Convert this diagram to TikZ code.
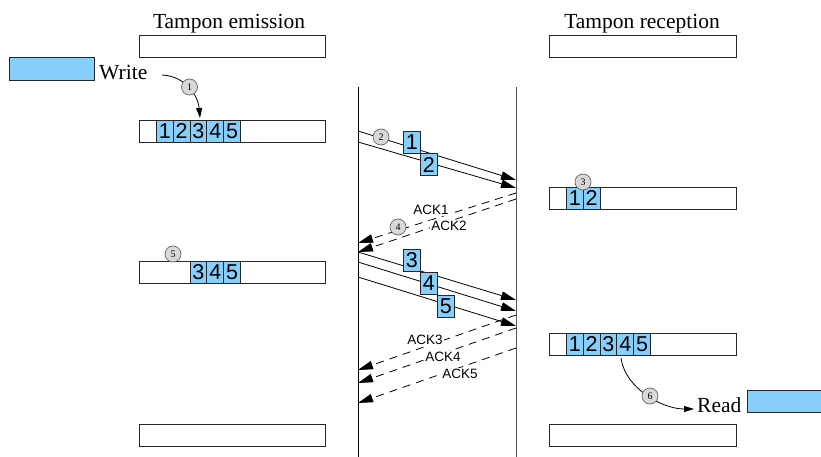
\documentclass[tikz,border=0pt]{standalone}
\usepackage{fontspec}
\setmainfont{Liberation Serif}
\newfontfamily\hv{Liberation Sans}
\usetikzlibrary{arrows.meta}
\definecolor{cellblue}{RGB}{136,206,250}
\begin{document}
\begin{tikzpicture}[x=1pt,y=-1pt,
  buf/.style={draw=black!85, line width=0.9pt, minimum width=186pt, minimum height=22pt, inner sep=0pt, anchor=north west},
  cell/.style={draw=black!85, fill=cellblue, line width=0.9pt, minimum width=16.8pt, minimum height=22pt, inner sep=0pt, anchor=north west, font=\hv\fontsize{21.5}{21.5}\selectfont},
  stepnum/.style={circle, draw=black!60, fill=black!15, line width=0.7pt, minimum size=16pt, inner sep=0pt, font=\fontsize{10}{10}\selectfont},
  title/.style={font=\fontsize{21.5}{22}\selectfont, anchor=base, inner sep=0pt},
  acklbl/.style={font=\hv\fontsize{13.5}{13.5}\selectfont, inner sep=0pt},
  msg/.style={line width=0.8pt, -{Triangle[length=15pt,width=8.5pt]}},
  ackline/.style={msg, dash pattern=on 8pt off 6pt},
  timeline/.style={line width=0.9pt}
]
\useasboundingbox (0,0) rectangle (821,457);

% titles
\node[title] (t1) at (229,29) {Tampon emission};
\node[title] (t2) at (642,29) {Tampon reception};

% left buffers
\node[buf] (e0) at (139,35) {};
\node[buf] (e1) at (139,120) {};
\node[buf] (e2) at (139,261) {};
\node[buf] (e3) at (139,424) {};
% right buffers
\node[buf, minimum width=187pt] (r0) at (549,35) {};
\node[buf, minimum width=187pt] (r1) at (549,187) {};
\node[buf, minimum width=187pt] (r2) at (549,333) {};
\node[buf, minimum width=187pt] (r3) at (549,424) {};

% cells in buffers
\foreach \i [count=\k from 0] in {1,...,5}
  \node[cell] (ea\i) at (156+16.8*\k,120) {\i};
\foreach \i [count=\k from 0] in {3,4,5}
  \node[cell] (eb\i) at (189.6+16.8*\k,261) {\i};
\foreach \i [count=\k from 0] in {1,2}
  \node[cell] (ra\i) at (566+16.8*\k,187) {\i};
\foreach \i [count=\k from 0] in {1,...,5}
  \node[cell] (rb\i) at (566+16.8*\k,333) {\i};

% write / read
\node[draw=black!85, fill=cellblue, line width=0.9pt, minimum width=85pt, minimum height=23pt, inner sep=0pt, anchor=north west] (wbox) at (9,57) {};
\node[font=\fontsize{21.5}{22}\selectfont, anchor=base west, inner sep=0pt] (wtxt) at (99,80) {Write};
\node[font=\fontsize{21.5}{22}\selectfont, anchor=base west, inner sep=0pt] (rtxt) at (697,412) {Read};
\node[draw=black!85, fill=cellblue, line width=0.9pt, minimum width=80pt, minimum height=22pt, inner sep=0pt, anchor=north west] (rbox) at (747,390) {};

\coordinate (wst) at (162,75);
\coordinate (wend) at (200,118);
\draw[line width=0.8pt, -{Triangle[length=10pt,width=6pt]}] (wst) .. controls (185,76) and (198,95) .. (wend);
\node[stepnum] (s1) at (189.5,87) {1};

\coordinate (rst) at (621,358);
\coordinate (rend) at (694,409);
\draw[line width=0.8pt, -{Triangle[length=10pt,width=6pt]}] (rst) .. controls (625,388) and (662,409) .. (rend);
\node[stepnum] (s6) at (650,396) {6};

% timelines
\coordinate (lt) at (358,87);
\coordinate (lb) at (358,457);
\coordinate (rt) at (516,87);
\coordinate (rb) at (516,457);
\draw[timeline] (lt) -- (lb);
\draw[timeline, black!65] (rt) -- (rb);

% data messages 1,2
\coordinate (m1s) at (358,131); \coordinate (m1e) at (516,180);
\coordinate (m2s) at (358,142); \coordinate (m2e) at (516,188);
\draw[msg] (m1s) -- (m1e);
\draw[msg] (m2s) -- (m2e);
\node[cell] (p1) at (403,131) {1};
\node[cell] (p2) at (420,153.5) {2};
\node[stepnum] (s2) at (381,137) {2};

% acks 1,2
\coordinate (a1s) at (516,193); \coordinate (a1e) at (358,243);
\coordinate (a2s) at (516,199); \coordinate (a2e) at (358,252);
\draw[ackline] (a1s) -- (a1e);
\draw[ackline] (a2s) -- (a2e);
\node[acklbl, fill=white, inner sep=1pt] (k1) at (431,210) {ACK1};
\node[acklbl, fill=white, inner sep=1pt] (k2) at (449,226) {ACK2};
\node[stepnum] (s4) at (398,227) {4};

% data messages 3,4,5
\coordinate (m3s) at (358,252); \coordinate (m3e) at (516,300);
\coordinate (m4s) at (358,262); \coordinate (m4e) at (516,311);
\coordinate (m5s) at (358,277); \coordinate (m5e) at (516,326);
\draw[msg] (m3s) -- (m3e);
\draw[msg] (m4s) -- (m4e);
\draw[msg] (m5s) -- (m5e);
\node[cell] (p3) at (403,249) {3};
\node[cell] (p4) at (420,271.5) {4};
\node[cell] (p5) at (437,294.5) {5};

% acks 3,4,5
\coordinate (a3s) at (516,315); \coordinate (a3e) at (358,370);
\coordinate (a4s) at (516,328); \coordinate (a4e) at (358,383);
\coordinate (a5s) at (516,348); \coordinate (a5e) at (358,403);
\draw[ackline] (a3s) -- (a3e);
\draw[ackline] (a4s) -- (a4e);
\draw[ackline] (a5s) -- (a5e);
\node[acklbl, fill=white, inner sep=1pt] (k3) at (425,340) {ACK3};
\node[acklbl, fill=white, inner sep=1pt] (k4) at (443,357) {ACK4};
\node[acklbl, fill=white, inner sep=1pt] (k5) at (460,374) {ACK5};

% other step markers
\node[stepnum] (s3) at (583,182) {3};
\node[stepnum] (s5) at (173,254) {5};
\end{tikzpicture}
\end{document}
